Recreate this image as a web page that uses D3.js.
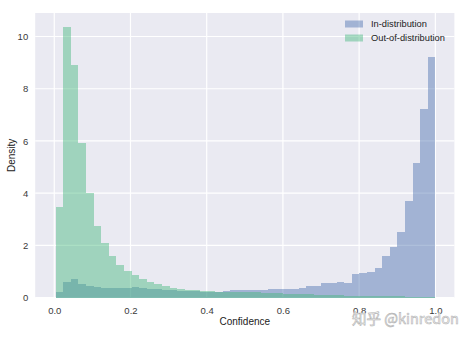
<!DOCTYPE html>
<html>
<head>
    <meta charset="utf-8">
    <title>Confidence histogram</title>
    <script src="https://d3js.org/d3.v7.min.js"></script>
    <style>
        body { margin: 0; background: #fff; }
        text { font-family: "Liberation Sans", Arial, sans-serif; }
    </style>
</head>
<body>
    <svg width="471" height="337"></svg>
    <script>
        // histogram densities, 50 bins between binStart and binEnd
        var binStart = 0.0037, binEnd = 1.0;
        var inDist = [
            0.23, 0.59, 0.72, 0.52, 0.45, 0.40, 0.38, 0.36, 0.36, 0.38,
            0.40, 0.36, 0.34, 0.33, 0.30, 0.28, 0.26, 0.26, 0.24, 0.22,
            0.20, 0.22, 0.24, 0.28, 0.28, 0.30, 0.30, 0.30, 0.32, 0.32,
            0.34, 0.35, 0.36, 0.45, 0.46, 0.58, 0.58, 0.59, 0.56, 0.90,
            0.93, 0.97, 1.13, 1.61, 1.93, 2.50, 3.72, 5.17, 7.22, 9.22
        ];
        var outDist = [
            3.49, 10.38, 8.92, 5.92, 4.00, 2.76, 2.08, 1.61, 1.25, 1.02,
            0.87, 0.72, 0.62, 0.53, 0.44, 0.37, 0.33, 0.31, 0.28, 0.27,
            0.24, 0.23, 0.22, 0.22, 0.21, 0.20, 0.20, 0.19, 0.18, 0.17,
            0.16, 0.15, 0.14, 0.13, 0.12, 0.11, 0.10, 0.09, 0.08, 0.08,
            0.07, 0.07, 0.06, 0.06, 0.05, 0.05, 0.04, 0.04, 0.04, 0.04
        ];
        var xTicks = [0.0, 0.2, 0.4, 0.6, 0.8, 1.0];
        var yTicks = [0, 2, 4, 6, 8, 10];
        var seriesNames = ["In-distribution", "Out-of-distribution"];

        var colors = ["#4C72B0", "#45B87C"];
        var alpha = 0.45;

        var svg = d3.select("svg");
        // note: "top" is taken by window.top, so use plot* names
        var plotLeft = 35.2, plotRight = 454.4, plotTop = 13, plotBottom = 297.7;

        var x = d3.scaleLinear().domain([-0.05, 1.05]).range([plotLeft, plotRight]);
        var yMax = d3.max(inDist.concat(outDist)) * 1.05;
        var y = d3.scaleLinear().domain([0, yMax]).range([plotBottom, plotTop]);

        var binW = (binEnd - binStart) / inDist.length;

        // background
        svg.append("rect")
            .attr("x", plotLeft).attr("y", plotTop)
            .attr("width", plotRight - plotLeft).attr("height", plotBottom - plotTop)
            .attr("fill", "#EAEAF2");

        // grid
        svg.append("g").selectAll("line")
            .data(xTicks).enter().append("line")
            .attr("x1", function(d) { return x(d); })
            .attr("x2", function(d) { return x(d); })
            .attr("y1", plotTop).attr("y2", plotBottom)
            .attr("stroke", "#fff").attr("stroke-width", 1.2);
        svg.append("g").selectAll("line")
            .data(yTicks).enter().append("line")
            .attr("y1", function(d) { return y(d); })
            .attr("y2", function(d) { return y(d); })
            .attr("x1", plotLeft).attr("x2", plotRight)
            .attr("stroke", "#fff").attr("stroke-width", 1.2);

        // bars
        [inDist, outDist].forEach(function(series, si) {
            svg.append("g")
                .selectAll("rect")
                .data(series).enter().append("rect")
                .attr("x", function(d, i) { return x(binStart + i * binW); })
                .attr("width", function(d, i) { return x(binStart + (i + 1) * binW) - x(binStart + i * binW); })
                .attr("y", function(d) { return y(d); })
                .attr("height", function(d) { return plotBottom - y(d); })
                .attr("fill", colors[si])
                .attr("fill-opacity", alpha)
                .attr("shape-rendering", "crispEdges");
        });

        // axes
        var xAxis = svg.append("g")
            .attr("transform", "translate(0," + plotBottom + ")")
            .call(d3.axisBottom(x).tickValues(xTicks).tickFormat(d3.format(".1f")).tickSize(0).tickPadding(10));
        var yAxis = svg.append("g")
            .attr("transform", "translate(" + plotLeft + ",0)")
            .call(d3.axisLeft(y).tickValues(yTicks).tickFormat(d3.format("d")).tickSize(0).tickPadding(7));
        [xAxis, yAxis].forEach(function(a) {
            a.select(".domain").remove();
            a.selectAll("text")
                .attr("fill", "#3a3a3a")
                .style("font-size", "9.5px")
                .style("font-family", "'Liberation Sans', Arial, sans-serif");
        });

        // axis labels
        svg.append("text")
            .attr("x", (x(0) + x(1)) / 2).attr("y", 325)
            .attr("text-anchor", "middle")
            .attr("fill", "#222").style("font-size", "10px")
            .text("Confidence");
        svg.append("text")
            .attr("transform", "translate(15," + ((plotTop + plotBottom) / 2) + ") rotate(-90)")
            .attr("text-anchor", "middle")
            .attr("fill", "#222").style("font-size", "10px")
            .text("Density");

        // legend
        var legend = svg.append("g");
        seriesNames.forEach(function(name, i) {
            var ly = 24 + i * 14;
            legend.append("rect")
                .attr("x", 345).attr("y", ly - 3.5)
                .attr("width", 18).attr("height", 7)
                .attr("fill", colors[i]).attr("fill-opacity", alpha);
            legend.append("text")
                .attr("x", 371).attr("y", ly + 3.3)
                .attr("fill", "#222").style("font-size", "9.3px")
                .text(name);
        });

        // watermark
        svg.append("text")
            .attr("x", 352).attr("y", 324)
            .attr("fill", "#f8f8f8").attr("stroke", "#b4b4b4").attr("stroke-width", 0.6)
            .style("font-size", "14.5px")
            .style("font-family", "'Noto Sans CJK SC', 'DejaVu Sans', sans-serif")
            .text("知乎 @kinredon");
    </script>
</body>
</html>
